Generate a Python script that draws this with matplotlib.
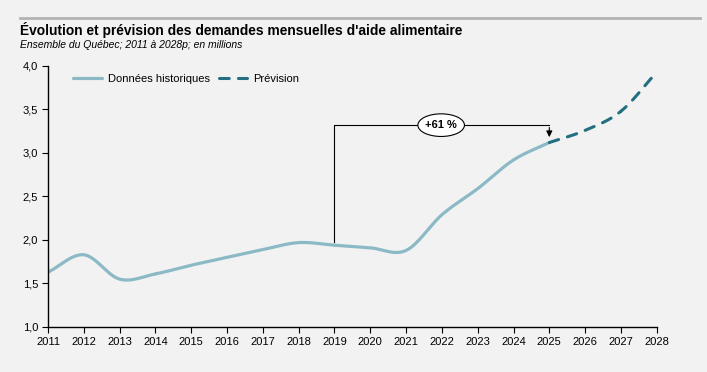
import numpy as np
import matplotlib.pyplot as plt
from matplotlib.patches import Ellipse

plt.rcParams['font.family'] = ['Liberation Sans', 'DejaVu Sans']

# Data (millions of monthly requests)
hist_years = [2011, 2012, 2013, 2014, 2015, 2016, 2017, 2018, 2019, 2020, 2021, 2022, 2023, 2024, 2025]
hist_values = [1.63, 1.83, 1.55, 1.61, 1.71, 1.80, 1.89, 1.97, 1.94, 1.91, 1.88, 2.29, 2.59, 2.92, 3.12]
fc_years = [2025, 2026, 2027, 2028]
fc_values = [3.12, 3.26, 3.48, 3.93]
x_ticks = list(range(2011, 2029))
y_ticks = [1.0, 1.5, 2.0, 2.5, 3.0, 3.5, 4.0]

hist_color = '#8bbac6'
fc_color = '#236e80'
bg = '#f2f2f2'


def smooth(xs, ys, n=30):
    # Catmull-Rom style smoothing like a spreadsheet "smoothed line"
    xs = np.asarray(xs, float)
    ys = np.asarray(ys, float)
    px = np.concatenate([[2 * xs[0] - xs[1]], xs, [2 * xs[-1] - xs[-2]]])
    py = np.concatenate([[2 * ys[0] - ys[1]], ys, [2 * ys[-1] - ys[-2]]])
    ox, oy = [], []
    t = np.linspace(0, 1, n)
    for i in range(1, len(px) - 2):
        for arr, out in ((px, ox), (py, oy)):
            p0, p1, p2, p3 = arr[i - 1], arr[i], arr[i + 1], arr[i + 2]
            out.extend(0.5 * ((2 * p1) + (-p0 + p2) * t
                              + (2 * p0 - 5 * p1 + 4 * p2 - p3) * t ** 2
                              + (-p0 + 3 * p1 - 3 * p2 + p3) * t ** 3))
    return np.array(ox), np.array(oy)


fig = plt.figure(figsize=(7.07, 3.72), dpi=100, facecolor=bg)
ax = fig.add_axes([0.0679, 0.121, 0.861, 0.7016], facecolor=bg)

hx, hy = smooth(hist_years, hist_values)
ax.plot(hx, hy, color=hist_color, lw=2.3, solid_capstyle='round', label='Données historiques')
fx, fy = smooth(fc_years, fc_values)
ax.plot(fx, fy, color=fc_color, lw=2.2, dashes=(3.2, 3.0), dash_capstyle='round', label='Prévision')

ax.set_xlim(2011, 2028)
ax.set_ylim(1.0, 4.0)
ax.set_xticks(x_ticks)
ax.set_xticklabels([str(y) for y in x_ticks], fontsize=8)
ax.set_yticks(y_ticks)
ax.set_yticklabels([f'{v:.1f}'.replace('.', ',') for v in y_ticks], fontsize=8)
ax.tick_params(direction='out', length=4, width=0.8, pad=3)
for s in ('top', 'right'):
    ax.spines[s].set_visible(False)
for s in ('left', 'bottom'):
    ax.spines[s].set_linewidth(1.0)

# Annotation bracket 2019 -> 2025
y_top = 3.32
ax.plot([2019, 2019, 2025], [1.98, y_top, y_top], color='black', lw=0.8)
ax.annotate('', xy=(2025, 3.15), xytext=(2025, y_top + 0.005),
            arrowprops=dict(arrowstyle='-|>', color='black', lw=0.8, mutation_scale=9))
ax.add_patch(Ellipse((2021.98, y_top), 1.3, 0.26, facecolor='white', edgecolor='black', lw=0.8, zorder=4))
ax.text(2021.98, y_top, '+61 %', ha='center', va='center', fontsize=8, fontweight='bold', zorder=5)

leg = ax.legend(loc='upper left', bbox_to_anchor=(0.025, 1.008), ncol=2, frameon=False,
                fontsize=8, handlelength=2.6, columnspacing=0.8, handletextpad=0.5)

# Header
fig.add_artist(plt.Line2D([20 / 707, 700 / 707], [1 - 18 / 372, 1 - 18 / 372], color='#b3b3b3', lw=2))
fig.text(20 / 707, 1 - 30 / 372, "Évolution et prévision des demandes mensuelles d'aide alimentaire",
         fontsize=9.9, fontweight='bold', va='center')
fig.text(20 / 707, 1 - 45 / 372, 'Ensemble du Québec; 2011 à 2028p; en millions',
         fontsize=7.5, style='italic', va='center')

fig.savefig('out.png', dpi=100, facecolor=bg)
